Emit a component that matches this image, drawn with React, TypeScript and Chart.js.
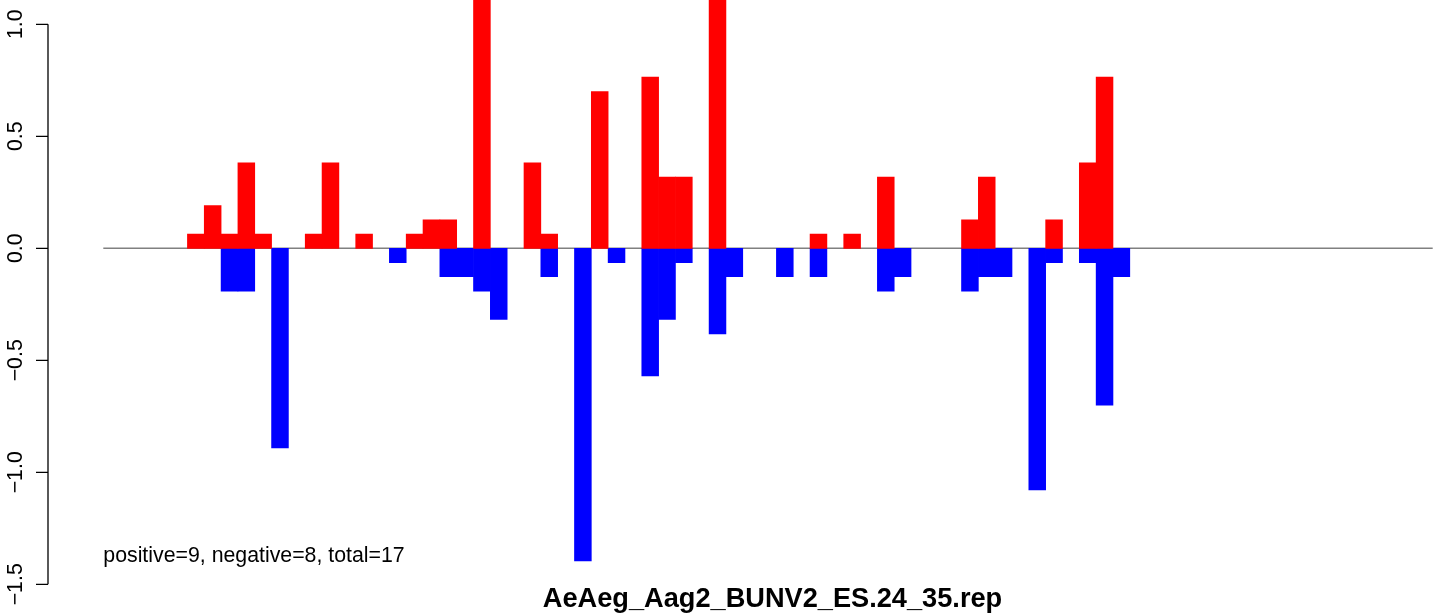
import React, { useEffect, useRef } from "react";
import { Chart, registerables } from "chart.js";

Chart.register(...registerables);

// ---- data -------------------------------------------------------------
const categories: string[] = Array.from({ length: 79 }, (_, i) => String(i + 1));

// null = no bar at that position
const positiveValues: (number | null)[] = [
  null, null, null, null, null, 0.064, 0.191, 0.064, 0.382, 0.064,
  null, null, 0.064, 0.382, null, 0.064, null, null, 0.064, 0.127,
  0.127, null, 1.3, null, null, 0.382, 0.064, null, null, 0.7,
  null, null, 0.764, 0.318, 0.318, null, 1.3, null, null, null,
  null, null, 0.064, null, 0.064, null, 0.318, null, null, null,
  null, 0.127, 0.318, null, null, null, 0.127, null, 0.382, 0.764,
  null, null, null, null, null, null, null, null, null, null,
  null, null, null, null, null, null, null, null, null,
];

const negativeValues: (number | null)[] = [
  null, null, null, null, null, null, null, -0.191, -0.191, null,
  -0.891, null, null, null, null, null, null, -0.064, null, null,
  -0.127, -0.127, -0.191, -0.318, null, null, -0.127, null, -1.396, null,
  -0.064, null, -0.57, -0.318, -0.064, null, -0.382, -0.127, null, null,
  -0.127, null, -0.127, null, null, null, -0.191, -0.127, null, null,
  null, -0.191, -0.127, -0.127, null, -1.079, -0.064, null, -0.064, -0.7,
  -0.127, null, null, null, null, null, null, null, null, null,
  null, null, null, null, null, null, null, null, null,
];

const yTickValues: number[] = [-1.5, -1.0, -0.5, 0.0, 0.5, 1.0];
const yTickLabels: string[] = ["\u22121.5", "\u22121.0", "\u22120.5", "0.0", "0.5", "1.0"];

const titleText = "AeAeg_Aag2_BUNV2_ES.24_35.rep";
const noteText = "positive=9, negative=8, total=17";

// ---- styling ----------------------------------------------------------
const FONT = "'Liberation Sans', Arial, Helvetica, sans-serif";
const W = 1444;
const H = 614;

const decorPlugin = {
  id: "rDecor",
  beforeDatasetsDraw(chart: any) {
    const { ctx, chartArea, scales } = chart;
    const y0 = scales.y.getPixelForValue(0);
    ctx.save();
    ctx.strokeStyle = "#808080";
    ctx.lineWidth = 1.5;
    ctx.beginPath();
    ctx.moveTo(chartArea.left, y0);
    ctx.lineTo(chartArea.right, y0);
    ctx.stroke();
    ctx.restore();
  },
  afterDraw(chart: any) {
    const { ctx, scales } = chart;
    const ys = scales.y;
    const axisX = 48;
    const tickLen = 12;
    const top = ys.getPixelForValue(yTickValues[yTickValues.length - 1]);
    const bottom = ys.getPixelForValue(yTickValues[0]);
    ctx.save();
    ctx.strokeStyle = "#000000";
    ctx.lineWidth = 1.3;
    ctx.beginPath();
    ctx.moveTo(axisX, top);
    ctx.lineTo(axisX, bottom);
    yTickValues.forEach((v) => {
      const py = ys.getPixelForValue(v);
      ctx.moveTo(axisX - tickLen, py);
      ctx.lineTo(axisX, py);
    });
    ctx.stroke();

    ctx.fillStyle = "#000000";
    ctx.font = `21.3px ${FONT}`;
    ctx.textAlign = "center";
    ctx.textBaseline = "alphabetic";
    yTickValues.forEach((v, i) => {
      const py = ys.getPixelForValue(v);
      ctx.save();
      ctx.translate(22, py);
      ctx.rotate(-Math.PI / 2);
      ctx.fillText(yTickLabels[i], 0, 0);
      ctx.restore();
    });

    ctx.textAlign = "left";
    ctx.font = `21.3px ${FONT}`;
    ctx.fillText(noteText, chart.chartArea.left, 561.5);

    ctx.textAlign = "center";
    ctx.font = `bold 27.2px ${FONT}`;
    ctx.fillText(titleText, 772.5, 606.5);
    ctx.restore();
  },
};

export default function App() {
  const canvasRef = useRef<HTMLCanvasElement | null>(null);

  useEffect(() => {
    const canvas = canvasRef.current;
    if (!canvas) return;
    const chart = new Chart(canvas, {
      type: "bar",
      data: {
        labels: categories,
        datasets: [
          {
            label: "positive",
            data: positiveValues,
            backgroundColor: "#FF0000",
            borderWidth: 0,
            barPercentage: 1,
            categoryPercentage: 1,
          },
          {
            label: "negative",
            data: negativeValues,
            backgroundColor: "#0000FF",
            borderWidth: 0,
            barPercentage: 1,
            categoryPercentage: 1,
          },
        ],
      },
      options: {
        responsive: false,
        maintainAspectRatio: false,
        animation: false,
        devicePixelRatio: 1,
        layout: {
          padding: { left: 103.3, right: 11.3, top: 0, bottom: 7.3 },
        },
        plugins: {
          legend: { display: false },
          tooltip: { enabled: false },
          title: { display: false },
        },
        scales: {
          x: { display: false, stacked: true, offset: true },
          y: { display: false, stacked: true, min: -1.6, max: 1.1085 },
        },
      },
      plugins: [decorPlugin],
    });
    return () => chart.destroy();
  }, []);

  return (
    <div style={{ position: "fixed", left: 0, top: 0, width: W, height: H, background: "#ffffff" }}>
      <canvas ref={canvasRef} width={W} height={H} style={{ display: "block", width: W, height: H }} />
    </div>
  );
}
